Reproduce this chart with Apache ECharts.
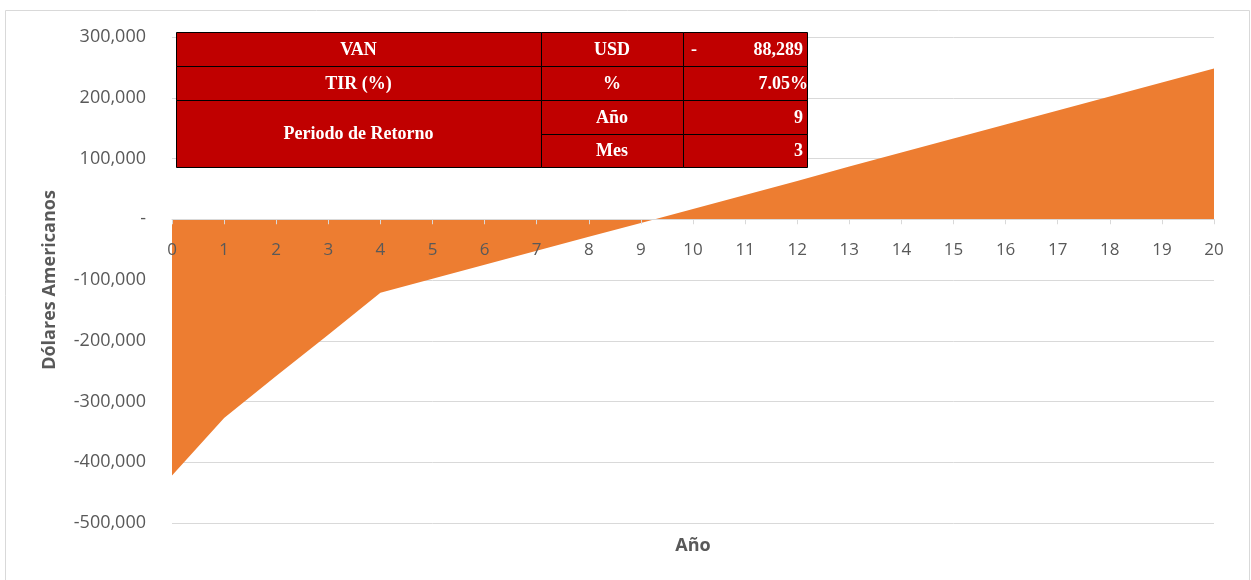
<!DOCTYPE html>
<html>
<head>
<meta charset="utf-8">
<script src="https://cdn.jsdelivr.net/npm/echarts@6/dist/echarts.min.js"></script>
<style>
html,body{margin:0;padding:0;background:#fff;}
#chart{width:1251px;height:580px;}
</style>
</head>
<body>
<div id="chart"></div>
<script>
// ---- Data ----
const years = ['0','1','2','3','4','5','6','7','8','9','10','11','12','13','14','15','16','17','18','19','20'];
const cumulativeFlow = [-422000, -327000, -258000, -190000, -121000, -98000, -75000, -52000, -29000, -6000,
  17000, 40000, 63000, 87000, 110000, 133000, 156000, 179000, 202000, 225000, 248000];
const yAxisTitle = 'Dólares Americanos';
const xAxisTitle = 'Año';
// summary table rows: [label, unit, value]
const tableLabels = ['VAN', 'TIR (%)', 'Periodo de Retorno'];
const tableUnits = ['USD', '%', 'Año', 'Mes'];
const tableValues = ['88,289', '7.05%', '9', '3'];
const vanSign = '-';

const chart = echarts.init(document.getElementById('chart'));

// table geometry
const tx = [176, 541, 683, 807];
const ty = [32, 66, 100, 134, 167];
const red = '#C00000';
const tFont = 'bold 18px "Liberation Serif", "Times New Roman", serif';
const g = [];
g.push({type:'rect', shape:{x:5.5,y:10.5,width:1244,height:600}, style:{fill:'none',stroke:'#D9D9D9',lineWidth:1}, z:0, silent:true});
function cell(x0,y0,x1,y1){
  g.push({type:'rect', shape:{x:x0+0.5,y:y0+0.5,width:x1-x0,height:y1-y0}, style:{fill:red,stroke:'#000',lineWidth:1}, z:10});
}
function txt(s,x,y,align){
  g.push({type:'text', x:x, y:y, style:{text:s, fill:'#fff', font:tFont, textAlign:align, textVerticalAlign:'middle'}, z:11});
}
for (let r=0;r<2;r++){
  cell(tx[0],ty[r],tx[1],ty[r+1]);
  cell(tx[1],ty[r],tx[2],ty[r+1]);
  cell(tx[2],ty[r],tx[3],ty[r+1]);
}
cell(tx[0],ty[2],tx[1],ty[4]);
for (let r=2;r<4;r++){
  cell(tx[1],ty[r],tx[2],ty[r+1]);
  cell(tx[2],ty[r],tx[3],ty[r+1]);
}
txt(tableLabels[0], (tx[0]+tx[1])/2, (ty[0]+ty[1])/2+1, 'center');
txt(tableLabels[1], (tx[0]+tx[1])/2, (ty[1]+ty[2])/2+1, 'center');
txt(tableLabels[2], (tx[0]+tx[1])/2, (ty[2]+ty[4])/2+1, 'center');
for (let r=0;r<4;r++){
  txt(tableUnits[r], (tx[1]+tx[2])/2, (ty[r]+ty[r+1])/2+1, 'center');
  txt(tableValues[r], r===1 ? tx[3]+1 : tx[3]-4, (ty[r]+ty[r+1])/2+1, 'right');
}
txt(vanSign, tx[2]+8, (ty[0]+ty[1])/2+1, 'left');

const labelColor = '#595959';
const gridTop = 37, gridBottom = 57, chartH = 580;
const yMin = -500000, yMax = 300000;
const plotH = chartH - gridTop - gridBottom;
// shift the category axis up so it sits on the zero line
const zeroOffset = -plotH * (0 - yMin) / (yMax - yMin);

const option = {
  backgroundColor:'#fff',
  animation:false,
  grid:{left:172, right:37, top:gridTop, bottom:gridBottom, containLabel:false, outerBoundsMode:'none'},
  xAxis:{
    type:'category',
    data:years,
    boundaryGap:false,
    position:'bottom',
    offset:zeroOffset,
    name:xAxisTitle,
    nameLocation:'middle',
    nameGap:318,
    nameTextStyle:{fontFamily:'Open Sans', fontSize:18, fontWeight:'bold', color:labelColor},
    axisLine:{onZero:false, lineStyle:{color:'#D9D9D9', width:1}},
    axisTick:{show:true, alignWithLabel:true, length:5, lineStyle:{color:'#D9D9D9'}},
    axisLabel:{fontFamily:'Open Sans', fontSize:17, color:labelColor, margin:22, interval:0},
    splitLine:{show:false},
    z:5
  },
  yAxis:{
    type:'value',
    min:yMin, max:yMax, interval:100000,
    name:yAxisTitle,
    nameLocation:'middle',
    nameGap:113,
    nameRotate:90,
    nameTextStyle:{fontFamily:'Open Sans', fontSize:18, fontWeight:'bold', color:labelColor},
    axisLine:{show:false},
    axisTick:{show:false},
    axisLabel:{
      fontFamily:'Open Sans', fontSize:18, color:labelColor, margin:26,
      formatter:function(v){ return v===0 ? '-' : v.toLocaleString('en-US'); }
    },
    splitLine:{lineStyle:{color:'#D9D9D9', width:1}}
  },
  series:[{
    type:'line',
    data:cumulativeFlow,
    showSymbol:false,
    symbol:'none',
    lineStyle:{width:0, color:'#ED7D31'},
    areaStyle:{color:'#ED7D31', opacity:1},
    itemStyle:{color:'#ED7D31'},
    z:2
  }],
  graphic:g
};
chart.setOption(option);
</script>
</body>
</html>
